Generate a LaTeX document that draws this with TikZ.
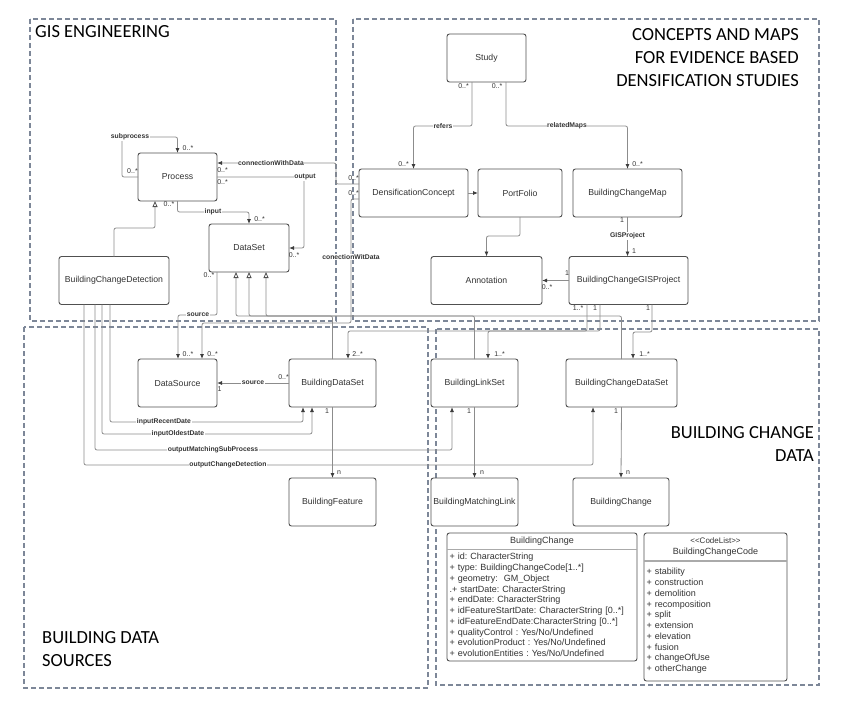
\documentclass[tikz,border=0pt]{standalone}
\usepackage{fontspec}
\setmainfont{Liberation Sans}
\newfontfamily\titlefont{Carlito}
\usetikzlibrary{arrows.meta}
\frenchspacing
\definecolor{dgcolor0000}{RGB}{125,135,152}
\definecolor{dgcolor0001}{RGB}{80,80,80}
\definecolor{dgcolor0002}{RGB}{140,140,140}
\definecolor{dgcolor0003}{RGB}{60,60,60}
\definecolor{dgcolor0004}{RGB}{51,51,51}
\definecolor{dgcolor0005}{RGB}{170,170,170}

\begin{document}
\begin{tikzpicture}[yscale=-1
                ,pstyle1/.style={color=dgcolor0000,line width=1.2pt,dash pattern=on 5pt off 3pt}
                ,pstyle2/.style={draw=dgcolor0001,fill=white,line width=0.9pt,rounded corners=2.5pt,inner sep=0pt,outer sep=0pt,text=dgcolor0004,font=\fontsize{8.7}{10}\selectfont,minimum height=48pt}
                ,pstyle3/.style={color=dgcolor0002,line width=0.8pt,rounded corners=2pt,-{Latex[length=5pt,width=4pt,color=dgcolor0003]}}
                ,pstyle4/.style={color=dgcolor0002,line width=0.8pt,rounded corners=2pt,-{Triangle[length=6pt,width=5pt,fill=white,color=dgcolor0001]}}
                ,pstyle5/.style={fill=white,inner sep=0.6pt,text=dgcolor0004,font=\bfseries\fontsize{6.8}{8}\selectfont}
                ,pstyle6/.style={inner sep=0pt,text=dgcolor0004,font=\fontsize{7}{8}\selectfont}
                ,pstyle7/.style={inner sep=0pt,text=black,font=\titlefont\fontsize{18.5}{23}\selectfont}
                ,pstyle8/.style={inner sep=2.5pt,outer sep=0pt,text=dgcolor0004,font=\fontsize{9}{10.75}\selectfont}
                ,pstyle9/.style={draw=dgcolor0001,line width=0.9pt,rounded corners=2.5pt}
            ]
            \useasboundingbox (0pt,0pt) rectangle (853pt,717pt);
            % package frames
            \draw[pstyle1] (30pt,19pt) rectangle (336pt,321pt);
            \draw[pstyle1] (353pt,19pt) rectangle (819pt,321pt);
            \draw[pstyle1] (24pt,327pt) rectangle (428pt,688pt);
            \draw[pstyle1] (436pt,329pt) rectangle (819pt,685pt);
            \node[pstyle7,anchor=west] (tGis) at (35pt,32pt) {GIS ENGINEERING};
            \node[pstyle7,anchor=east,align=right] (tConcepts) at (799pt,58pt) {CONCEPTS AND MAPS\\FOR EVIDENCE BASED\\DENSIFICATION STUDIES};
            \node[pstyle7,anchor=east,align=right] (tChange) at (814pt,443.5pt) {BUILDING CHANGE\\DATA};
            \node[pstyle7,anchor=west,align=left] (tSources) at (42pt,649.5pt) {BUILDING DATA\\SOURCES};
            % classes
            \node[pstyle2,minimum width=79pt] (Study) at (486.5pt,58pt) {Study};
            \node[pstyle2,minimum width=109pt] (DensificationConcept) at (413.5pt,193pt) {DensificationConcept};
            \node[pstyle2,minimum width=84pt] (PortFolio) at (520pt,193pt) {PortFolio};
            \node[pstyle2,minimum width=109pt] (BuildingChangeMap) at (627.5pt,193pt) {BuildingChangeMap};
            \node[pstyle2,minimum width=111pt] (Annotation) at (486.5pt,280.5pt) {Annotation};
            \node[pstyle2,minimum width=119pt] (BuildingChangeGISProject) at (628.5pt,280.5pt) {BuildingChangeGISProject};
            \node[pstyle2,minimum width=79pt] (Process) at (177.5pt,177pt) {Process};
            \node[pstyle2,minimum width=80pt] (DataSet) at (249pt,248pt) {DataSet};
            \node[pstyle2,minimum width=110pt] (BuildingChangeDetection) at (114pt,280.5pt) {BuildingChangeDetection};
            \node[pstyle2,minimum width=79pt] (DataSource) at (177.5pt,383pt) {DataSource};
            \node[pstyle2,minimum width=87pt] (BuildingDataSet) at (332.5pt,383pt) {BuildingDataSet};
            \node[pstyle2,minimum width=87pt] (BuildingFeature) at (332.5pt,502pt) {BuildingFeature};
            \node[pstyle2,minimum width=87pt] (BuildingLinkSet) at (474.5pt,383pt) {BuildingLinkSet};
            \node[pstyle2,minimum width=111pt] (BuildingChangeDataSet) at (621.5pt,383pt) {BuildingChangeDataSet};
            \node[pstyle2,minimum width=87pt] (BuildingMatchingLink) at (474.5pt,502pt) {BuildingMatchingLink};
            \node[pstyle2,minimum width=96pt] (BuildingChange) at (621pt,502pt) {BuildingChange};
            % attribute boxes
            \node[pstyle8,anchor=north west,inner sep=0pt,minimum width=190pt,minimum height=16pt] (BChead) at (447pt,533pt) {BuildingChange};
            \node[pstyle8,anchor=north west,text width=185pt,minimum height=112pt,align=left] (BCbody) at (BChead.south west) {+ id: CharacterString\\+ type: BuildingChangeCode[1..*]\\+ geometry:~~GM\_Object\\.+ startDate: CharacterString\\+ endDate: CharacterString\\+ idFeatureStartDate: CharacterString [0..*]\\+ idFeatureEndDate:CharacterString [0..*]\\+ qualityControl : Yes/No/Undefined\\+ evolutionProduct : Yes/No/Undefined\\+ evolutionEntities : Yes/No/Undefined};
            \draw[pstyle9] (BChead.north west) rectangle (BCbody.south east);
            \draw[color=dgcolor0005,line width=0.9pt] (BChead.south west) -- (BChead.south east);
            \node[pstyle8,anchor=north west,inner sep=0pt,minimum width=143pt,minimum height=28pt,align=center] (BCChead) at (644pt,533pt) {{\fontsize{8}{11}\selectfont <{}<CodeList>{}>}\\BuildingChangeCode};
            \node[pstyle8,anchor=north west,text width=138pt,minimum height=120pt,align=left] (BCCbody) at (BCChead.south west) {+ stability\\+ construction\\+ demolition\\+ recomposition\\+ split\\+ extension\\+ elevation\\+ fusion\\+ changeOfUse\\+ otherChange};
            \draw[pstyle9] (BCChead.north west) rectangle (BCCbody.south east);
            \draw[color=dgcolor0005,line width=1.2pt] (BCChead.south west) -- (BCChead.south east);
            % associations
            \draw[pstyle3] (Process.west) -| (122pt,137pt) -| (Process.north);
            \draw[pstyle3] (DensificationConcept.west |- 0,184pt) -- (336pt,184pt) |- (Process.east |- 0,163pt);
            \draw[pstyle3] (Process.east |- 0,177pt) -| (304pt,248pt) -- (DataSet.east);
            \draw[pstyle3] (Process.south) |- (DataSet.north |- 0,212pt) -- (DataSet.north);
            \draw[pstyle4] (BuildingChangeDetection.north) |- (155pt,228pt) -- (Process.south -| 155pt,0);
            \draw[pstyle3] (DensificationConcept.west |- 0,199pt) -- (351pt,199pt) |- (202pt,323pt) -- (DataSource.north -| 202pt,0);
            \draw[pstyle3] (DataSet.south -| 217pt,0) |- (178pt,315pt) -- (DataSource.north -| 178pt,0);
            \draw[pstyle4] (BuildingDataSet.north) |- (236pt,316pt) -- (DataSet.south -| 236pt,0);
            \draw[pstyle4] (BuildingLinkSet.north) |- (249pt,316pt) -- (DataSet.south -| 249pt,0);
            \draw[pstyle4] (BuildingChangeDataSet.north) |- (266pt,316pt) -- (DataSet.south -| 266pt,0);
            \draw[pstyle3] (BuildingDataSet.west) -- (DataSource.east);
            \draw[pstyle3] (BuildingDataSet.south) -- (BuildingFeature.north);
            \draw[pstyle3] (Study.south -| 472pt,0) |- (DensificationConcept.north |- 0,126pt) -- (DensificationConcept.north);
            \draw[pstyle3] (Study.south -| 506pt,0) |- (BuildingChangeMap.north |- 0,126pt) -- (BuildingChangeMap.north);
            \draw[pstyle3] (DensificationConcept.east) -- (PortFolio.west);
            \draw[pstyle3] (PortFolio.south) |- (Annotation.north |- 0,236pt) -- (Annotation.north);
            \draw[pstyle3] (BuildingChangeMap.south) -- (BuildingChangeMap.south |- BuildingChangeGISProject.north);
            \draw[pstyle3] (BuildingChangeGISProject.west) -- (Annotation.east);
            \draw[pstyle3] (BuildingChangeGISProject.south -| 587pt,0) |- (348pt,331pt) -- (BuildingDataSet.north -| 348pt,0);
            \draw[pstyle3] (BuildingChangeGISProject.south -| 600pt,0) |- (488pt,331pt) -- (BuildingLinkSet.north -| 488pt,0);
            \draw[pstyle3] (BuildingChangeGISProject.south -| 652pt,0) |- (633pt,332pt) -- (BuildingChangeDataSet.north -| 633pt,0);
            \draw[pstyle3] (BuildingChangeDetection.south -| 110pt,0) |- (303pt,422pt) -- (BuildingDataSet.south -| 303pt,0);
            \draw[pstyle3] (BuildingChangeDetection.south -| 102pt,0) |- (312pt,434pt) -- (BuildingDataSet.south -| 312pt,0);
            \draw[pstyle3] (BuildingChangeDetection.south -| 95pt,0) |- (452pt,450pt) -- (BuildingLinkSet.south -| 452pt,0);
            \draw[pstyle3] (BuildingChangeDetection.south -| 84pt,0) |- (593pt,465pt) -- (BuildingChangeDataSet.south -| 593pt,0);
            \draw[pstyle3] (BuildingLinkSet.south) -- (BuildingMatchingLink.north);
            \draw[pstyle3] (BuildingChangeDataSet.south) -- (BuildingChange.north);
            % role names
            \node[pstyle5] (lSubprocess) at (130pt,137pt) {subprocess};
            \node[pstyle5] (lConnection) at (271pt,163pt) {connectionWithData};
            \node[pstyle5] (lOutput) at (305pt,177pt) {output};
            \node[pstyle5] (lInput) at (213pt,212pt) {input};
            \node[pstyle5] (lConection) at (351pt,257pt) {conectionWitData};
            \node[pstyle5] (lSource) at (198pt,315pt) {source};
            \node[pstyle5] (lSourceB) at (253pt,383pt) {source};
            \node[pstyle5] (lRefers) at (443pt,126pt) {refers};
            \node[pstyle5] (lRelated) at (567pt,126pt) {relatedMaps};
            \node[pstyle5] (lGis) at (627.5pt,236pt) {GISProject};
            \node[pstyle5] (lRecent) at (164pt,422pt) {inputRecentDate};
            \node[pstyle5] (lOldest) at (178pt,434pt) {inputOldestDate};
            \node[pstyle5] (lMatching) at (213pt,450pt) {outputMatchingSubProcess};
            \node[pstyle5] (lDetection) at (228pt,465pt) {outputChangeDetection};
            % multiplicities
            \node[pstyle6] (mProcTop) at (188pt,148pt) {0..*};
            \node[pstyle6] (mProcLeft) at (132.5pt,171pt) {0..*};
            \node[pstyle6] (mProcRightA) at (222.5pt,170pt) {0..*};
            \node[pstyle6] (mProcRightB) at (222.5pt,182pt) {0..*};
            \node[pstyle6] (mProcBottom) at (169pt,204pt) {0..*};
            \node[pstyle6] (mSetTop) at (259.5pt,219pt) {0..*};
            \node[pstyle6] (mSetRight) at (294pt,255.5pt) {0..*};
            \node[pstyle6] (mSetBottom) at (209pt,275pt) {0..*};
            \node[pstyle6] (mConceptA) at (353.5pt,178pt) {0..*};
            \node[pstyle6] (mConceptB) at (353.5pt,193pt) {0..*};
            \node[pstyle6] (mConceptTop) at (403.5pt,164pt) {0..*};
            \node[pstyle6] (mMapTop) at (637.5pt,164pt) {0..*};
            \node[pstyle6] (mStudyA) at (463.5pt,86pt) {0..*};
            \node[pstyle6] (mStudyB) at (497pt,86pt) {0..*};
            \node[pstyle6] (mMapBottom) at (622pt,220pt) {1};
            \node[pstyle6] (mGisTop) at (634pt,251pt) {1};
            \node[pstyle6] (mGisLeft) at (567pt,273pt) {1};
            \node[pstyle6] (mAnnotRight) at (547pt,287pt) {0..*};
            \node[pstyle6] (mGisBottomA) at (578pt,308pt) {1..*};
            \node[pstyle6] (mGisBottomB) at (595pt,308pt) {1};
            \node[pstyle6] (mGisBottomC) at (648pt,308pt) {1};
            \node[pstyle6] (mSourceA) at (188pt,354pt) {0..*};
            \node[pstyle6] (mSourceB) at (212.5pt,354pt) {0..*};
            \node[pstyle6] (mBdsTop) at (357.5pt,354pt) {2..*};
            \node[pstyle6] (mBdsLeft) at (283.5pt,377pt) {0..*};
            \node[pstyle6] (mSourceRight) at (219.5pt,389pt) {1};
            \node[pstyle6] (mBdsBottom) at (327pt,411pt) {1};
            \node[pstyle6] (mFeatureTop) at (339pt,473pt) {n};
            \node[pstyle6] (mLinkTop) at (499.5pt,354pt) {1..*};
            \node[pstyle6] (mChangeSetTop) at (644.5pt,354pt) {1..*};
            \node[pstyle6] (mLinkBottom) at (469pt,411pt) {1};
            \node[pstyle6] (mMatchingTop) at (482pt,473pt) {n};
            \node[pstyle6] (mChangeSetBottom) at (616pt,411pt) {1};
            \node[pstyle6] (mChangeTop) at (628pt,473pt) {n};
        \end{tikzpicture}
\end{document}
